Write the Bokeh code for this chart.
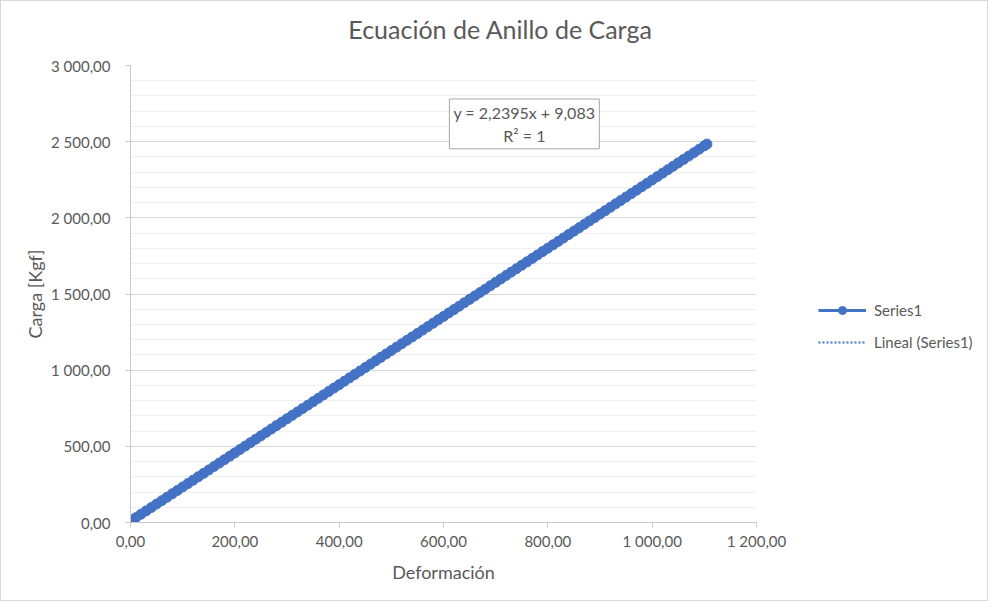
from bokeh.plotting import figure
from bokeh.models import Label, Legend, LegendItem, FixedTicker
from bokeh.layouts import row, column
from bokeh.embed import file_html
from bokeh.resources import INLINE

# ---- data ----
deformacion = [0, 10, 20, 30, 40, 50, 60, 70, 80, 90,
               100, 110, 120, 130, 140, 150, 160, 170, 180, 190,
               200, 210, 220, 230, 240, 250, 260, 270, 280, 290,
               300, 310, 320, 330, 340, 350, 360, 370, 380, 390,
               400, 410, 420, 430, 440, 450, 460, 470, 480, 490,
               500, 510, 520, 530, 540, 550, 560, 570, 580, 590,
               600, 610, 620, 630, 640, 650, 660, 670, 680, 690,
               700, 710, 720, 730, 740, 750, 760, 770, 780, 790,
               800, 810, 820, 830, 840, 850, 860, 870, 880, 890,
               900, 910, 920, 930, 940, 950, 960, 970, 980, 990,
               1000, 1010, 1020, 1030, 1040, 1050, 1060, 1070, 1080, 1090,
               1100, 1105]
carga = [9.08, 31.48, 53.87, 76.27, 98.66, 121.06, 143.45, 165.85, 188.24, 210.64,
         233.03, 255.43, 277.82, 300.22, 322.61, 345.01, 367.40, 389.80, 412.19, 434.59,
         456.98, 479.38, 501.77, 524.17, 546.56, 568.96, 591.35, 613.75, 636.14, 658.54,
         680.93, 703.33, 725.72, 748.12, 770.51, 792.91, 815.30, 837.70, 860.09, 882.49,
         904.88, 927.28, 949.67, 972.07, 994.46, 1016.86, 1039.25, 1061.65, 1084.04, 1106.44,
         1128.83, 1151.23, 1173.62, 1196.02, 1218.41, 1240.81, 1263.20, 1285.60, 1307.99, 1330.39,
         1352.78, 1375.18, 1397.57, 1419.97, 1442.36, 1464.76, 1487.15, 1509.55, 1531.94, 1554.34,
         1576.73, 1599.13, 1621.52, 1643.92, 1666.31, 1688.71, 1711.10, 1733.50, 1755.89, 1778.29,
         1800.68, 1823.08, 1845.47, 1867.87, 1890.26, 1912.66, 1935.05, 1957.45, 1979.84, 2002.24,
         2024.63, 2047.03, 2069.42, 2091.82, 2114.21, 2136.61, 2159.00, 2181.40, 2203.79, 2226.19,
         2248.58, 2270.98, 2293.37, 2315.77, 2338.16, 2360.56, 2382.95, 2405.35, 2427.74, 2450.14,
         2472.53, 2483.73]

trend_slope = 2.2395
trend_intercept = 9.083
trend_x = [0, 1105]

x_ticks = [0, 200, 400, 600, 800, 1000, 1200]
x_tick_labels = ["0,00", "200,00", "400,00", "600,00", "800,00", "1 000,00", "1 200,00"]
y_ticks = [0, 500, 1000, 1500, 2000, 2500, 3000]
y_tick_labels = ["0,00", "500,00", "1 000,00", "1 500,00", "2 000,00", "2 500,00", "3 000,00"]
y_minor = [v for v in range(100, 3000, 100) if v % 500 != 0]

title_text = "Ecuación de Anillo de Carga"
x_label = "Deformación"
y_label = "Carga [Kgf]"
series_name = "Series1"
trend_name = "Lineal (Series1)"
eq_text = "y = 2,2395x + 9,083\nR\u00b2 = 1"

# ---- styling ----
FONT = "Lato"
TXT = "#595959"
BLUE = "#4472C4"
AXIS = "#c8c8c8"


def blank(fig):
    fig.axis.visible = False
    fig.grid.visible = False
    fig.outline_line_color = None
    fig.background_fill_color = "white"
    fig.border_fill_color = "white"
    fig.min_border = 0


# ---- title strip ----
top = figure(width=986, height=50, output_backend="svg", toolbar_location=None,
             title=None, x_range=(0, 986), y_range=(0, 50))
blank(top)
top.add_layout(Label(x=499, y=23, text=title_text, text_align="center",
                     text_baseline="alphabetic", text_font=FONT,
                     text_font_size="25px", text_color=TXT))

# ---- main chart ----
p = figure(width=791, height=549, output_backend="svg", toolbar_location=None,
           title=None, x_range=(0, 1200), y_range=(0, 3000),
           min_border_left=129, min_border_right=36,
           min_border_top=14, min_border_bottom=78)
p.outline_line_color = None
p.background_fill_color = "white"
p.border_fill_color = "white"

p.xaxis.ticker = FixedTicker(ticks=x_ticks)
p.xaxis.major_label_overrides = {t: l for t, l in zip(x_ticks, x_tick_labels)}
p.yaxis.ticker = FixedTicker(ticks=y_ticks, minor_ticks=y_minor)
p.yaxis.major_label_overrides = {t: l for t, l in zip(y_ticks, y_tick_labels)}
for ax in (p.xaxis, p.yaxis):
    ax.axis_line_color = AXIS
    ax.major_tick_line_color = AXIS
    ax.major_tick_out = 5
    ax.major_tick_in = 0
    ax.minor_tick_line_color = None
    ax.major_label_text_font = FONT
    ax.major_label_text_font_size = "15px"
    ax.major_label_text_color = TXT
    ax.axis_label_text_font = FONT
    ax.axis_label_text_font_size = "18px"
    ax.axis_label_text_color = TXT
    ax.axis_label_text_font_style = "normal"
p.xaxis.axis_label = x_label
p.yaxis.axis_label = y_label
p.yaxis.major_label_standoff = 15
p.xaxis.major_label_standoff = 4
p.yaxis.axis_label_standoff = 2
p.xaxis.axis_label_standoff = 8

p.xgrid.grid_line_color = None
p.ygrid.grid_line_color = "#d9d9d9"
p.ygrid.minor_grid_line_color = "#efefef"

trend_y = [trend_slope * v + trend_intercept for v in trend_x]
p.line(trend_x, trend_y, line_color=BLUE, line_width=2, line_dash="2 2")
p.line(deformacion, carga, line_color=BLUE, line_width=3)
p.scatter(deformacion, carga, size=10, fill_color=BLUE, line_color=BLUE)

p.add_layout(Label(x=755, y=2780, text=eq_text, text_align="center",
                   text_baseline="top", text_font=FONT, text_font_size="16px",
                   text_color=TXT, border_line_color="#a6a6a6",
                   background_fill_color="white", padding=4))

# ---- legend panel (its frame is aligned with the main plot frame) ----
lg = figure(width=195, height=549, output_backend="svg", toolbar_location=None,
            title=None, x_range=(0, 1), y_range=(0, 1))
blank(lg)
k_line = lg.line(deformacion[:2], carga[:2], line_color=BLUE, line_width=3)
k_pts = lg.scatter(deformacion[:1], carga[:1], size=9, fill_color=BLUE, line_color=BLUE)
k_trend = lg.line(trend_x, trend_y, line_color=BLUE, line_width=2, line_dash="2 2")
legend = Legend(items=[LegendItem(label=series_name, renderers=[k_line, k_pts]),
                       LegendItem(label=trend_name, renderers=[k_trend])],
                location=(26, 170), border_line_color=None,
                background_fill_alpha=0, padding=0, margin=0, spacing=12,
                label_height=20, glyph_height=20, glyph_width=48, label_standoff=8,
                label_text_font=FONT, label_text_font_size="15px",
                label_text_color=TXT)
lg.add_layout(legend)

layout = column(top, row(p, lg, spacing=0), spacing=0)
layout.styles = {"border": "1px solid #d9d9d9"}

open("out.html", "w").write(file_html(layout, INLINE))
